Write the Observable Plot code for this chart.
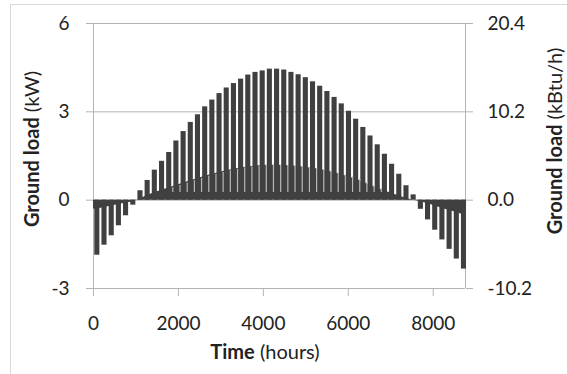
<!DOCTYPE html>
<html>
<head>
<meta charset="utf-8">
<script src="https://cdn.jsdelivr.net/npm/d3@7"></script>
<script src="https://cdn.jsdelivr.net/npm/@observablehq/plot@0.6"></script>
<style>
  html, body { margin: 0; padding: 0; background: #fff; }
  svg { display: block; }
</style>
</head>
<body>
<div id="chart"></div>
<script>
// Hour at the centre of each weekly peak
const weekHours = [90, 259, 429, 598, 767, 937, 1106, 1275, 1444, 1614, 1783, 1952, 2122, 2291, 2460, 2630, 2799, 2968, 3137, 3307, 3476, 3645, 3815, 3984, 4153, 4323, 4492, 4661, 4830, 5000, 5169, 5338, 5508, 5677, 5846, 6016, 6185, 6354, 6523, 6693, 6862, 7031, 7201, 7370, 7539, 7709, 7878, 8047, 8216, 8386, 8555, 8724];
// Weekly peak ground load (kW)
const peakLoad = [-1.87, -1.53, -1.21, -0.87, -0.53, -0.17, 0.32, 0.67, 1.02, 1.32, 1.62, 2.01, 2.33, 2.64, 2.90, 3.17, 3.40, 3.62, 3.81, 3.96, 4.11, 4.25, 4.34, 4.39, 4.45, 4.45, 4.42, 4.34, 4.26, 4.16, 4.02, 3.87, 3.69, 3.49, 3.27, 3.02, 2.75, 2.47, 2.18, 1.88, 1.56, 1.22, 0.88, 0.49, 0.18, -0.31, -0.67, -1.02, -1.35, -1.67, -2.00, -2.34];
// Weekly base ground load (kW)
const baseLoad = [-0.30, -0.25, -0.20, -0.15, -0.10, -0.05, 0.06, 0.16, 0.26, 0.34, 0.42, 0.50, 0.58, 0.66, 0.74, 0.81, 0.88, 0.94, 1.00, 1.05, 1.10, 1.13, 1.16, 1.18, 1.19, 1.19, 1.18, 1.16, 1.14, 1.11, 1.08, 1.04, 0.99, 0.93, 0.86, 0.79, 0.71, 0.61, 0.50, 0.40, 0.31, 0.23, 0.14, 0.06, 0.00, -0.05, -0.12, -0.20, -0.28, -0.35, -0.42, -0.50];

const yTicks = [-3, 0, 3, 6];
const rightTickLabels = ["-10.2", "0.0", "10.2", "20.4"];
const xTicks = [0, 2000, 4000, 6000, 8000];
const yearHours = [0, 8760];

const weeks = weekHours.map((h, i) => ({h, peak: peakLoad[i], base: baseLoad[i]}));
const baseArea = [
  {h: yearHours[0], base: baseLoad[0]},
  ...weeks,
  {h: yearHours[1], base: baseLoad[baseLoad.length - 1]}
];
const rightLabel = new Map(yTicks.map((t, i) => [t, rightTickLabels[i]]));

const dark = "#404040";
const grid = "#b4b4b4";
const textColor = "#222";
const font = "Lato, 'Open Sans', sans-serif";

const plot = Plot.plot({
  width: 567,
  height: 374,
  marginLeft: 93,
  marginRight: 102,
  marginTop: 23,
  marginBottom: 86,
  style: {fontFamily: font, fontSize: "19px", background: "#fff", overflow: "visible"},
  x: {domain: yearHours},
  y: {domain: [yTicks[0], yTicks[yTicks.length - 1]]},
  marks: [
    Plot.ruleY(yTicks, {stroke: grid}),
    Plot.ruleX(yearHours, {stroke: grid}),
    Plot.areaY(baseArea, {x: "h", y: "base", fill: dark}),
    Plot.rect(weeks, {x1: d => d.h - 60, x2: d => d.h + 60, y1: 0, y2: "peak", fill: dark}),
    Plot.ruleX(weeks.filter(d => d.base > 0.35), {x: d => d.h + 84.6, y1: 0.26, y2: "base", stroke: "#b8b8b8", strokeWidth: 1.2}),
    Plot.axisY(yTicks, {anchor: "left", tickSize: 7, tickPadding: 17, stroke: grid, fill: textColor, label: null, fontSize: 19, tickFormat: d => String(d)}),
    Plot.axisY(yTicks, {anchor: "right", tickSize: 7, tickPadding: 15, stroke: grid, fill: textColor, label: null, fontSize: 19, tickFormat: d => rightLabel.get(d)}),
    Plot.axisX(xTicks, {anchor: "bottom", tickSize: 8, tickPadding: 20, stroke: grid, fill: textColor, label: null, fontSize: 19, tickFormat: d => String(d)})
  ]
});

const svg = d3.select(plot);
svg.insert("rect", ":first-child")
  .attr("x", 10.5).attr("y", 4.5).attr("width", 600).attr("height", 400)
  .attr("fill", "none").attr("stroke", "#d9d9d9");

function title(x, y, rot, bold, rest) {
  const t = svg.append("text")
    .attr("transform", `translate(${x},${y}) rotate(${rot})`)
    .attr("text-anchor", "middle")
    .attr("dy", "0.35em")
    .attr("fill", textColor)
    .attr("font-family", font)
    .attr("font-size", 20);
  t.append("tspan").attr("font-weight", "bold").text(bold);
  t.append("tspan").text(rest);
}
title(32, 149, -90, "Ground load", " (kW)");
title(555, 141, -90, "Ground load", " (kBtu/h)");
title(265, 352, 0, "Time", " (hours)");

document.getElementById("chart").appendChild(plot);
</script>
</body>
</html>
